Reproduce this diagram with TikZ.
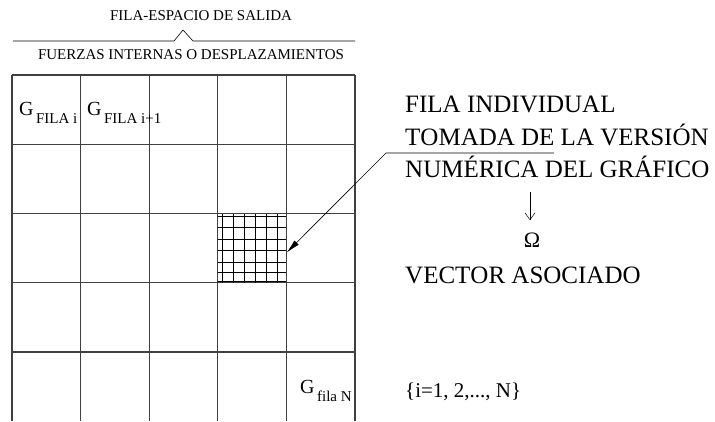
\documentclass[tikz,border=0pt]{standalone}
\usepackage{fontspec}
\setmainfont{Liberation Serif}
\newfontfamily\plana[Kerning=Off]{Liberation Serif}
\usetikzlibrary{arrows.meta}

\newcommand{\fsz}[1]{\fontsize{#1}{#1}\selectfont}

\begin{document}
\begin{tikzpicture}[x=1pt,y=-1pt,
    rejilla/.style={line width=1.1pt,black!75},
    fina/.style={line width=0.7pt,black},
    texto/.style={inner sep=0pt,anchor=base west}]
    \useasboundingbox (0,0) rectangle (715,421);

    % Title and brace
    \node[inner sep=0pt,anchor=base] (salida) at (201,20) {\fsz{15}FILA-ESPACIO DE SALIDA};
    \draw[line width=0.6pt] (13,41) -- (174,41) -- (183,30) -- (193,41) -- (355,41);
    \node[inner sep=0pt,anchor=base] (fuerzas) at (191,59) {\fsz{15}FUERZAS INTERNAS O DESPLAZAMIENTOS};

    % Grid of rows (open at the bottom)
    \foreach \i in {0,...,5} {
        \draw[rejilla] (12+68.6*\i,75) -- (12+68.6*\i,421);
    }
    \foreach \j in {0,...,4} {
        \draw[rejilla] (12,75+69.25*\j) -- (355,75+69.25*\j);
    }

    % Detailed cell
    \node[minimum width=68.6pt,minimum height=69.25pt,inner sep=0pt] (celda) at (252.1,248.1) {};
    \foreach \x in {222,233,244,255,266,277} {
        \draw[fina] (\x,213.5) -- (\x,282.75);
    }
    \foreach \y in {216,227,239,250,262,272,281} {
        \draw[fina] (217.8,\y) -- (286.4,\y);
    }

    % Row labels
    \node[texto] (g1) at (19,115) {\fsz{20}G\raisebox{-8pt}{\fsz{15}\,FILA i}};
    \node[texto] (g2) at (87,115) {\fsz{20}G\raisebox{-8pt}{\fsz{15}\,FILA i+1}};
    \node[texto] (gn) at (300,393) {\fsz{20}G\raisebox{-8pt}{\fsz{15}\,fila N}};

    % Right-hand text
    \node[texto] (t1) at (405,112) {\plana\fsz{25}FILA INDIVIDUAL};
    \node[texto] (t2) at (405,145) {\plana\fsz{25}TOMADA DE LA VERSIÓN};
    \node[texto] (t3) at (405,177) {\plana\fsz{25}NUMÉRICA DEL GRÁFICO};
    \node[inner sep=0pt,anchor=base] (omega) at (532,247) {\fsz{22}Ω};
    \node[texto] (vector) at (405,283) {\plana\fsz{25}VECTOR ASOCIADO};
    \node[texto] (indices) at (405,397) {\fsz{21}\{i=1, 2,..., N\}};

    % Leader and arrows
    \coordinate (guia) at (554,153);
    \coordinate (codo) at (386,153);
    \draw[line width=0.6pt,-{Latex[length=14pt,width=6pt]}] (guia) -- (codo) -- ([yshift=-4.5pt]celda.east);
    \draw[line width=0.5pt,-{Straight Barb[length=7pt,width=10pt]}] (530,192) -- ([xshift=-2pt,yshift=12pt]omega.north);
\end{tikzpicture}
\end{document}
